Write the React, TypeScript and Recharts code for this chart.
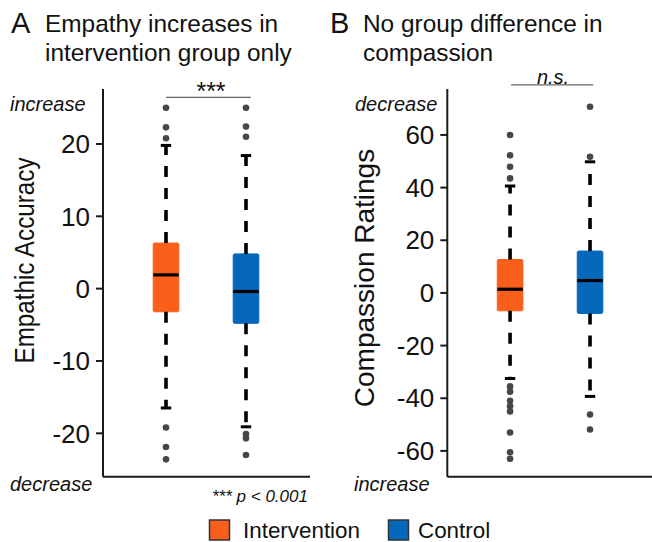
import React from "react"
import {
  ComposedChart,
  XAxis,
  YAxis,
  Scatter,
  ReferenceArea,
  ReferenceLine,
} from "recharts"

const FONT = "'Liberation Sans', Arial, sans-serif"

// groups and where they sit on the (numeric) x axis
const categories = ["Intervention", "Control"]
const xPos = [2, 4]
const xTicks = [1, 2, 3, 4, 5]
const colors = ["#F95E1B", "#0668BA"]

// panel A: empathic accuracy
const empLow = [-16.5, -19.1]
const empQ1 = [-3.2, -4.8]
const empMed = [1.9, -0.4]
const empQ3 = [6.3, 4.8]
const empHigh = [19.8, 18.4]
const empOutInt = [25.0, 22.3, 20.8, -19.2, -21.9, -23.6]
const empOutCtl = [25.0, 22.4, 21.0, -20.1, -20.7, -23.0]
const empTicks = [-20, -10, 0, 10, 20]

// panel B: compassion ratings
const comLow = [-32.5, -39.3]
const comQ1 = [-6.8, -7.8]
const comMed = [1.4, 4.7]
const comQ3 = [12.7, 15.9]
const comHigh = [40.6, 49.8]
const comOutInt = [60, 52.3, 47.9, 43.5, -35.5, -37.5, -41, -43, -45, -53, -60.5, -63]
const comOutCtl = [70.7, 51.7, -46.2, -51.9]
const comTicks = [-60, -40, -20, 0, 20, 40, 60]

const HALF_BOX = 0.32
const HALF_CAP = 0.13

const dot = (props: any) => (
  <circle cx={props.cx} cy={props.cy} r={3.3} fill="#46464d" />
)

function BoxPanel({
  width,
  yWidth,
  rightMargin,
  domain,
  ticks,
  low,
  q1,
  med,
  q3,
  high,
  outliers,
  xDomain,
  sig,
}: any) {
  const points = outliers.flatMap((vals: number[], i: number) =>
    vals.map((v) => ({ x: xPos[i], y: v }))
  )
  return (
    <ComposedChart
      width={width}
      height={542}
      margin={{ top: 89, right: rightMargin, bottom: 35.3, left: 0 }}
    >
      <XAxis
        type="number"
        dataKey="x"
        domain={xDomain}
        ticks={xTicks}
        allowDataOverflow
        tick={false}
        tickSize={4}
        height={30}
        axisLine={{ stroke: "#1a1a1a", strokeWidth: 2 }}
        tickLine={{ stroke: "#8a8a8a", strokeWidth: 1 }}
      />
      <YAxis
        type="number"
        dataKey="y"
        domain={domain}
        ticks={ticks}
        allowDataOverflow
        width={yWidth}
        tickSize={7}
        tickMargin={6}
        tick={{ fontSize: 26, fill: "#111", fontFamily: FONT }}
        axisLine={{ stroke: "#1a1a1a", strokeWidth: 2 }}
        tickLine={{ stroke: "#1a1a1a", strokeWidth: 2 }}
      />
      {xPos.map((p, i) => (
        <ReferenceArea
          key={"box" + i}
          x1={p - HALF_BOX}
          x2={p + HALF_BOX}
          y1={q1[i]}
          y2={q3[i]}
          fill={colors[i]}
          fillOpacity={1}
          stroke={colors[i]}
          strokeWidth={1}
          radius={1.5}
        />
      ))}
      {xPos.map((p, i) => (
        <ReferenceLine
          key={"wu" + i}
          segment={[{ x: p, y: q3[i] }, { x: p, y: high[i] }]}
          stroke="#000"
          strokeWidth={3.6}
          strokeDasharray="11 11"
        />
      ))}
      {xPos.map((p, i) => (
        <ReferenceLine
          key={"wl" + i}
          segment={[{ x: p, y: q1[i] }, { x: p, y: low[i] }]}
          stroke="#000"
          strokeWidth={3.6}
          strokeDasharray="11 11"
        />
      ))}
      {xPos.map((p, i) => (
        <ReferenceLine
          key={"cu" + i}
          segment={[{ x: p - HALF_CAP, y: high[i] }, { x: p + HALF_CAP, y: high[i] }]}
          stroke="#000"
          strokeWidth={3}
        />
      ))}
      {xPos.map((p, i) => (
        <ReferenceLine
          key={"cl" + i}
          segment={[{ x: p - HALF_CAP, y: low[i] }, { x: p + HALF_CAP, y: low[i] }]}
          stroke="#000"
          strokeWidth={3}
        />
      ))}
      {xPos.map((p, i) => (
        <ReferenceLine
          key={"med" + i}
          segment={[{ x: p - HALF_BOX, y: med[i] }, { x: p + HALF_BOX, y: med[i] }]}
          stroke="#000"
          strokeWidth={3.2}
        />
      ))}
      <ReferenceLine
        segment={[{ x: sig.x1, y: sig.y }, { x: sig.x2, y: sig.y }]}
        stroke="#666"
        strokeWidth={1.2}
        ifOverflow="visible"
      />
      <Scatter data={points} dataKey="y" shape={dot} isAnimationActive={false} />
    </ComposedChart>
  )
}

export default function App() {
  const txt = { fontFamily: FONT, fill: "#111" }
  return (
    <div
      style={{
        position: "absolute",
        left: 0,
        top: 0,
        width: 652,
        height: 542,
        background: "#fff",
        overflow: "hidden",
      }}
    >
      <div style={{ position: "absolute", left: 0, top: 0 }}>
        <BoxPanel
          width={330}
          yWidth={103}
          rightMargin={20}
          domain={[-26.0, 27.6]}
          ticks={empTicks}
          low={empLow}
          q1={empQ1}
          med={empMed}
          q3={empQ3}
          high={empHigh}
          outliers={[empOutInt, empOutCtl]}
          xDomain={[0.425, 5.6]}
          sig={{ x1: 2, x2: 4.12, y: 26.45 }}
        />
      </div>
      <div style={{ position: "absolute", left: 330, top: 0 }}>
        <BoxPanel
          width={322}
          yWidth={117.3}
          rightMargin={0}
          domain={[-69.8, 77.45]}
          ticks={comTicks}
          low={comLow}
          q1={comQ1}
          med={comMed}
          q3={comQ3}
          high={comHigh}
          outliers={[comOutInt, comOutCtl]}
          xDomain={[0.43, 5.55]}
          sig={{ x1: 2.025, x2: 4.08, y: 79 }}
        />
      </div>
      <svg
        width={652}
        height={542}
        style={{ position: "absolute", left: 0, top: 0, pointerEvents: "none" }}
      >
        <text x={11} y={33} fontSize={29} {...txt}>A</text>
        <text x={45} y={31.5} fontSize={24.4} {...txt}>Empathy increases in</text>
        <text x={45} y={61} fontSize={24.4} {...txt}>intervention group only</text>
        <text x={330} y={33} fontSize={29} {...txt}>B</text>
        <text x={363} y={31.5} fontSize={24.4} {...txt}>No group difference in</text>
        <text x={363} y={61} fontSize={24.4} {...txt}>compassion</text>

        <text x={211} y={99.5} fontSize={25} textAnchor="middle" {...txt}>***</text>
        <text x={553} y={84} fontSize={20} fontStyle="italic" textAnchor="middle" {...txt}>n.s.</text>

        <text x={10} y={110.5} fontSize={20} fontStyle="italic" {...txt}>increase</text>
        <text x={10} y={491} fontSize={20} fontStyle="italic" {...txt}>decrease</text>
        <text x={355} y={110.5} fontSize={20} fontStyle="italic" {...txt}>decrease</text>
        <text x={354} y={491} fontSize={20} fontStyle="italic" {...txt}>increase</text>
        <text x={212} y={501.5} fontSize={17} fontStyle="italic" {...txt}>*** p &lt; 0.001</text>

        <text
          transform="translate(33.5,260.5) rotate(-90)"
          fontSize={28}
          textAnchor="middle"
          textLength={206}
          lengthAdjust="spacingAndGlyphs"
          {...txt}
        >
          Empathic Accuracy
        </text>
        <text
          transform="translate(373.5,278) rotate(-90)"
          fontSize={28}
          textAnchor="middle"
          {...txt}
        >
          Compassion Ratings
        </text>

        {categories.map((c, i) => (
          <g key={c}>
            <rect
              x={i === 0 ? 209.5 : 388.5}
              y={520}
              width={20}
              height={20}
              fill={colors[i]}
              stroke="#333"
              strokeWidth={1.5}
            />
            <text x={i === 0 ? 243 : 418} y={538} fontSize={22.4} {...txt}>
              {c}
            </text>
          </g>
        ))}
      </svg>
    </div>
  )
}
